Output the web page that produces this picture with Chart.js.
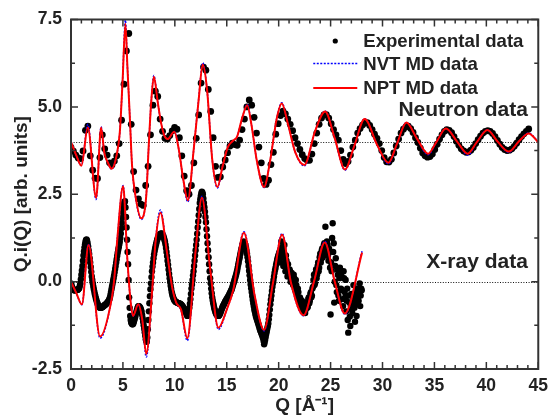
<!DOCTYPE html>
<html><head><meta charset="utf-8">
<script src="https://cdn.jsdelivr.net/npm/chart.js@4.4.1/dist/chart.umd.min.js"></script>
<style>html,body{margin:0;padding:0;background:#fff;}canvas{display:block;}</style>
</head><body>
<canvas id="c" width="555" height="420"></canvas>
<script>
// ---------------- data ----------------
const xTickValues = [0, 5, 10, 15, 20, 25, 30, 35, 40, 45];
const yTickValues = [-2.5, 0, 2.5, 5, 7.5];
const seriesLabels = ['Experimental data', 'NVT MD data', 'NPT MD data'];
const groupLabels = ['Neutron data', 'X-ray data'];
const baselines = [4.0, 0.0];

// Neutron experimental points, sampled every 0.232 Å^-1 starting at Q = 0
const neutronExpQStep = 0.232;
const neutronExp = [
  3.84,3.73,3.62,3.54,3.52,3.74,4.33,4.45,3.60,3.19,
  2.96,2.95,3.55,4.20,3.80,3.62,3.40,3.34,3.45,3.60,
  3.95,4.62,5.65,6.60,7.10,4.50,3.15,2.62,2.37,2.22,
  2.18,2.75,3.30,4.20,5.05,5.45,5.30,4.65,4.30,4.10,
  4.08,4.18,4.31,4.41,4.36,4.12,3.60,3.02,2.60,2.50,
  2.75,3.40,4.10,4.77,5.68,6.14,6.05,5.50,4.87,4.12,
  3.30,2.98,3.00,3.28,3.48,3.69,3.88,3.96,3.92,3.90,
  4.05,4.35,4.65,5.00,5.20,5.05,4.70,4.25,3.85,3.40,
  2.95,2.78,2.90,3.35,3.70,4.22,4.52,4.75,4.88,4.80,
  4.65,4.50,4.32,4.12,3.95,3.78,3.63,3.52,3.47,3.47,
  3.65,3.95,4.25,4.50,4.68,4.77,4.78,4.68,4.52,4.35,
  4.20,4.05,3.75,3.50,3.38,3.44,3.62,3.85,4.05,4.25,
  4.38,4.48,4.54,4.55,4.47,4.35,4.22,4.10,3.95,3.75,
  3.55,3.43,3.42,3.50,3.68,3.88,4.08,4.25,4.36,4.43,
  4.45,4.38,4.27,4.12,3.98,3.82,3.68,3.60,3.56,3.58,
  3.65,3.78,3.93,4.08,4.20,4.30,4.35,4.33,4.26,4.15,
  4.02,3.90,3.80,3.74,3.70,3.71,3.76,3.84,3.95,4.06,
  4.16,4.25,4.30,4.32,4.30,4.24,4.15,4.04,3.93,3.84,
  3.78,3.75,3.76,3.80,3.87,3.96,4.06,4.15,4.23,4.30,
  4.37
];

// X-ray experimental points, sampled every 0.05 Å^-1 starting at Q = 0 (one row per 1 Å^-1)
const xrayExpQStep = 0.05;
const xrayExp = [
  -0.05,-0.10,-0.15,-0.19,-0.22,-0.24,-0.25,-0.25,-0.25,-0.25,-0.24,-0.24,-0.24,-0.23,-0.22,-0.20,-0.18,-0.12,-0.05,0.07,
  0.20,0.32,0.45,0.60,0.75,0.87,0.98,1.07,1.15,1.19,1.21,1.17,1.10,1.01,0.90,0.79,0.67,0.55,0.42,0.28,
  0.15,0.05,-0.05,-0.14,-0.22,-0.29,-0.36,-0.42,-0.48,-0.53,-0.58,-0.62,-0.66,-0.69,-0.72,-0.74,-0.75,-0.75,-0.75,-0.74,
  -0.73,-0.72,-0.71,-0.70,-0.68,-0.67,-0.66,-0.65,-0.63,-0.62,-0.60,-0.58,-0.56,-0.53,-0.50,-0.45,-0.38,-0.30,-0.22,-0.14,
  -0.06,0.02,0.10,0.18,0.27,0.36,0.45,0.55,0.64,0.74,0.83,0.91,0.98,1.06,1.14,1.25,1.38,1.53,1.68,1.83,
  1.98,2.11,2.22,2.28,2.30,2.12,1.85,1.55,1.20,0.85,0.50,0.05,-0.45,-0.75,-0.98,-1.10,-1.17,-1.20,-1.22,-1.22,
  -1.20,-1.15,-1.10,-1.05,-0.99,-0.92,-0.86,-0.81,-0.76,-0.72,-0.70,-0.70,-0.72,-0.74,-0.77,-0.81,-0.86,-0.95,-1.05,-1.15,
  -1.25,-1.35,-1.45,-1.55,-1.65,-1.70,-1.72,-1.60,-1.36,-1.10,-0.85,-0.62,-0.42,-0.22,-0.05,0.13,0.30,0.43,0.55,0.67,
  0.78,0.87,0.95,1.02,1.08,1.14,1.20,1.24,1.27,1.30,1.33,1.35,1.36,1.37,1.38,1.37,1.36,1.33,1.30,1.25,
  1.20,1.14,1.06,0.96,0.85,0.73,0.60,0.48,0.35,0.22,0.10,-0.01,-0.12,-0.21,-0.30,-0.36,-0.42,-0.46,-0.50,-0.53,
  -0.55,-0.57,-0.58,-0.59,-0.60,-0.60,-0.61,-0.62,-0.62,-0.63,-0.63,-0.64,-0.66,-0.67,-0.69,-0.71,-0.73,-0.75,-0.78,-0.81,
  -0.84,-0.87,-0.91,-0.95,-0.98,-0.96,-0.92,-0.84,-0.75,-0.63,-0.50,-0.35,-0.20,-0.08,0.05,0.18,0.30,0.45,0.60,0.75,
  0.90,1.05,1.20,1.37,1.55,1.72,1.90,2.08,2.25,2.36,2.45,2.52,2.57,2.55,2.50,2.38,2.25,2.13,2.00,1.85,
  1.70,1.50,1.30,1.10,0.90,0.70,0.50,0.30,0.10,-0.05,-0.20,-0.33,-0.45,-0.54,-0.62,-0.69,-0.76,-0.81,-0.86,-0.90,
  -0.93,-0.95,-0.97,-0.98,-0.98,-0.97,-0.95,-0.92,-0.88,-0.84,-0.80,-0.76,-0.72,-0.69,-0.66,-0.63,-0.60,-0.57,-0.55,-0.52,
  -0.50,-0.47,-0.45,-0.42,-0.40,-0.36,-0.33,-0.30,-0.27,-0.24,-0.20,-0.15,-0.10,-0.05,0.00,0.05,0.10,0.15,0.20,0.26,
  0.32,0.40,0.48,0.55,0.63,0.70,0.78,0.85,0.92,0.98,1.05,1.10,1.14,1.14,1.12,1.09,1.05,0.98,0.90,0.80,
  0.70,0.58,0.45,0.31,0.18,0.05,-0.08,-0.19,-0.30,-0.41,-0.52,-0.61,-0.70,-0.78,-0.85,-0.92,-0.98,-1.03,-1.08,-1.12,
  -1.17,-1.22,-1.27,-1.32,-1.37,-1.41,-1.45,-1.49,-1.53,-1.57,-1.62,-1.70,-1.79,-1.73,-1.66,-1.58,-1.50,-1.43,-1.35,-1.28,
  -1.20,-1.08,-0.95,-0.80,-0.65,-0.52,-0.40,-0.27,-0.15,-0.05,0.05,0.15,0.25,0.33,0.40,0.48,0.55,0.62,0.68,0.73,
  0.78,0.82,0.86,0.55,0.93,1.15,0.98,0.70,1.00,0.45,0.85,1.05,0.55,0.30,0.75,0.60,0.35,0.15,0.50,0.25,
  0.15,0.35,0.30,0.00,0.05,0.25,0.20,-0.05,-0.10,0.20,0.10,-0.20,-0.25,0.05,-0.10,-0.35,-0.45,-0.20,-0.30,-0.55,
  -0.60,-0.45,-0.50,-0.70,-0.75,-0.55,-0.65,-0.85,-0.85,-0.65,-0.70,-0.90,-0.80,-0.60,-0.60,-0.75,-0.72,-0.50,-0.45,-0.62,
  -0.55,-0.35,-0.30,-0.45,-0.40,-0.20,-0.15,0.05,0.20,-0.10,-0.05,0.25,0.35,0.10,0.20,0.45,0.55,0.30,0.40,0.70,
  0.80,0.55,0.65,0.90,0.95,0.70,0.80,1.05,1.10,0.85,1.57,0.95,0.90,1.15,1.05,0.75,0.60,0.95,0.85,0.40,
  -0.94,0.55,0.30,1.25,1.67,0.85,1.10,-0.60,0.00,0.45,0.67,-0.10,-0.30,0.35,0.20,-0.40,-0.55,0.10,0.40,-0.25,
  -0.20,0.15,0.28,-0.50,-0.70,0.30,0.10,-0.30,-0.45,0.05,-0.85,-0.55,-0.20,-1.10,-1.46,-0.40,-0.60,-1.00,-1.27,-0.70,
  -0.35,-0.80,-0.90,-0.50,-0.10,-0.60,-0.75,-1.15,-0.40,-0.25,-0.98,-0.65,-0.20,-0.45,-0.55,-0.30,-0.05,-0.70,-0.40,-0.20,
  -0.25
];

// MD curves (neutron): Q nodes and values
const neutronMdQ = [0,0.5,1.0,1.62,2.42,2.9,3.2,3.53,3.91,4.39,4.7,4.96,5.24,5.43,5.66,5.88,6.2,6.77,7.25,7.47,
  7.72,7.98,8.36,8.67,8.99,9.31,9.95,10.4,10.8,11.25,11.82,12.3,12.68,13.1,13.6,14.1,14.6,15.1,15.6,16.0,
  16.5,16.97,17.4,17.9,18.59,19.2,19.8,20.3,20.9,21.6,22.47,23.5,24.47,25.4,26.38,27.3,28.28,29.5,30.57,31.4,
  32.3,33.3,34.38,35.2,36.1,37.2,38.2,39.1,40.1,41.1,42.16,43.1,44.07,45];
const neutronNpt = [4.0,3.62,3.32,4.41,2.40,4.41,3.7,3.42,3.23,3.61,4.27,5.69,7.38,6.16,4.74,3.32,2.47,1.81,2.47,3.79,
  5.12,5.86,5.12,4.55,4.18,4.08,4.29,3.75,2.95,2.33,3.79,5.22,6.21,5.5,3.5,2.71,3.3,3.85,4.03,4.15,
  4.7,5.05,4.45,3.45,2.71,3.5,4.65,5.10,4.5,3.7,3.34,4.3,4.87,4.1,3.21,3.9,4.65,3.9,3.40,3.95,
  4.55,4.1,3.66,4.0,4.38,4.0,3.66,4.0,4.34,4.0,3.72,4.0,4.24,3.99];
const neutronNvt = [4.0,3.62,3.32,4.50,2.35,4.43,3.7,3.42,3.22,3.61,4.27,5.72,7.48,6.16,4.74,3.32,2.45,1.78,2.47,3.79,
  5.12,5.90,5.12,4.55,4.18,4.08,4.29,3.75,2.93,2.28,3.79,5.24,6.26,5.5,3.5,2.68,3.3,3.85,4.03,4.15,
  4.7,5.07,4.45,3.45,2.69,3.5,4.65,5.12,4.5,3.7,3.31,4.3,4.88,4.1,3.19,3.9,4.66,3.9,3.37,3.95,
  4.55,4.1,3.63,4.0,4.38,4.0,3.62,4.0,4.34,4.0,3.70,4.0,4.25,4.0];

// MD curves (X-ray): Q nodes and values
const xrayMdQ = [0,0.5,1.05,1.69,2.8,3.85,4.16,4.48,5.02,5.43,5.75,5.97,6.48,6.86,7.25,7.82,8.13,8.61,9.25,9.72,
  10.13,10.6,11.2,11.98,12.61,13.41,14.2,15.0,15.63,16.65,17.7,18.59,19.45,20.33,21.19,22.4,23.4,24.44,25.4,26.37,28.03];
const xrayNpt = [0.0,-0.32,-0.65,1.05,-1.57,-0.6,0.06,1.29,2.73,0.63,-0.6,-0.98,-0.65,-1.08,-2.07,-0.23,1.1,1.97,0.82,-0.13,
  -0.6,-0.8,-1.62,0.82,2.4,0.34,-1.32,-0.8,-0.23,1.40,-0.42,-1.38,-0.04,1.34,-0.04,-0.96,0.0,1.12,0.0,-0.91,0.83];
const xrayNvt = [0.0,-0.32,-0.66,1.07,-1.62,-0.6,0.06,1.29,2.75,0.63,-0.6,-0.99,-0.65,-1.10,-2.16,-0.23,1.12,2.05,0.82,-0.13,
  -0.6,-0.82,-1.69,0.82,2.44,0.34,-1.37,-0.8,-0.23,1.43,-0.42,-1.41,-0.04,1.38,-0.04,-0.98,0.0,1.15,0.0,-0.93,0.87];

// ---------------- build ----------------
const toPts = (qs, vs) => vs.map((v, i) => ({x: qs[i], y: v}));
const gridPts = (step, vs) => vs.map((v, i) => ({x: +(i * step).toFixed(3), y: v}));

const FONT = "'Liberation Sans', Arial, Helvetica, sans-serif";
const TXT = '#222';

const lineDs = (label, pts, color, width, dash) => ({
  label, data: pts, borderColor: color, backgroundColor: color, borderWidth: width,
  borderDash: dash, pointRadius: 0, showLine: true, fill: false,
  cubicInterpolationMode: 'monotone'
});
const dotDs = (label, pts, r) => ({
  label, data: pts, showLine: false, pointRadius: r, pointBorderWidth: 0,
  pointBackgroundColor: '#000', borderColor: '#000', backgroundColor: '#000'
});

const decorPlugin = {
  id: 'decor',
  beforeDatasetsDraw(chart) {
    const {ctx, chartArea: a, scales: {y}} = chart;
    ctx.save();
    ctx.strokeStyle = '#111'; ctx.lineWidth = 1; ctx.setLineDash([1, 1.6]);
    baselines.forEach(v => {
      const py = Math.round(y.getPixelForValue(v)) + 0.5;
      ctx.beginPath(); ctx.moveTo(a.left, py); ctx.lineTo(a.right, py); ctx.stroke();
    });
    ctx.restore();
  },
  afterDraw(chart) {
    const {ctx, chartArea: a, scales: {x, y}} = chart;
    ctx.save();
    // ticks (inward, on all four sides)
    ctx.strokeStyle = '#333'; ctx.lineWidth = 1.5; ctx.setLineDash([]);
    for (let v = x.min; v <= x.max + 1e-9; v += 1) {
      const major = Math.abs(v / 5 - Math.round(v / 5)) < 1e-6;
      const len = major ? 7 : 4, px = x.getPixelForValue(v);
      ctx.beginPath();
      ctx.moveTo(px, a.bottom); ctx.lineTo(px, a.bottom - len);
      ctx.moveTo(px, a.top); ctx.lineTo(px, a.top + len);
      ctx.stroke();
    }
    for (let v = y.min; v <= y.max + 1e-9; v += 1.25) {
      const major = Math.abs(v / 2.5 - Math.round(v / 2.5)) < 1e-6;
      const len = major ? 7 : 4, py = y.getPixelForValue(v);
      ctx.beginPath();
      ctx.moveTo(a.left, py); ctx.lineTo(a.left + len, py);
      ctx.moveTo(a.right, py); ctx.lineTo(a.right - len, py);
      ctx.stroke();
    }
    // frame
    ctx.lineWidth = 2; ctx.strokeStyle = '#333';
    ctx.strokeRect(a.left, a.top, a.right - a.left, a.bottom - a.top);

    // legend
    const tx = a.right - 175, rows = [a.top + 21.5, a.top + 44, a.top + 68.5];
    ctx.font = 'bold 18.6px ' + FONT;
    ctx.textAlign = 'left'; ctx.textBaseline = 'middle';
    ctx.beginPath(); ctx.fillStyle = '#000';
    ctx.arc(tx - 28, rows[0], 2.6, 0, Math.PI * 2); ctx.fill();
    ctx.strokeStyle = '#0000ff'; ctx.lineWidth = 1.5; ctx.setLineDash([2, 1.5]);
    ctx.beginPath(); ctx.moveTo(tx - 50, rows[1]); ctx.lineTo(tx - 6, rows[1]); ctx.stroke();
    ctx.strokeStyle = '#ff0000'; ctx.lineWidth = 2; ctx.setLineDash([]);
    ctx.beginPath(); ctx.moveTo(tx - 50, rows[2]); ctx.lineTo(tx - 6, rows[2]); ctx.stroke();
    ctx.fillStyle = TXT;
    seriesLabels.forEach((t, i) => ctx.fillText(t, tx, rows[i] + 1));

    // group labels
    ctx.font = 'bold 21px ' + FONT; ctx.textAlign = 'right';
    ctx.fillText(groupLabels[0], x.getPixelForValue(44.0), y.getPixelForValue(4.9));
    ctx.fillText(groupLabels[1], x.getPixelForValue(44.0), y.getPixelForValue(0.57));
    ctx.restore();
  }
};

const tickFont = {family: FONT, size: 17.5, weight: 'bold'};
const titleFont = {family: FONT, size: 19, weight: 'bold'};

new Chart(document.getElementById('c'), {
  type: 'line',
  data: {
    datasets: [
      lineDs(seriesLabels[2], toPts(neutronMdQ, neutronNpt), '#ff0000', 2, []),
      lineDs(seriesLabels[2], toPts(xrayMdQ, xrayNpt), '#ff0000', 2, []),
      lineDs(seriesLabels[1], toPts(neutronMdQ, neutronNvt), '#0000ff', 1.5, [2, 1.5]),
      lineDs(seriesLabels[1], toPts(xrayMdQ, xrayNvt), '#0000ff', 1.5, [2, 1.5]),
      dotDs(seriesLabels[0], gridPts(neutronExpQStep, neutronExp), 3.4),
      dotDs(seriesLabels[0], gridPts(xrayExpQStep, xrayExp), 3.2)
    ]
  },
  options: {
    responsive: false, animation: false, devicePixelRatio: 1,
    layout: {padding: {top: 18, right: 12, left: 0, bottom: 0}},
    plugins: {legend: {display: false}, tooltip: {enabled: false}},
    scales: {
      x: {
        type: 'linear', min: 0, max: 45,
        afterFit(s) { s.height = 51; },
        afterBuildTicks(s) { s.ticks = xTickValues.map(v => ({value: v})); },
        ticks: {font: tickFont, color: TXT, padding: 7, maxRotation: 0, autoSkip: false,
          callback: v => String(v)},
        grid: {display: false, drawTicks: false},
        border: {display: false},
        title: {display: true, text: 'Q [Å⁻¹]', font: titleFont, color: TXT, padding: {top: 0, bottom: 3}}
      },
      y: {
        type: 'linear', min: -2.5, max: 7.5,
        afterFit(s) { s.width = 71; },
        afterBuildTicks(s) { s.ticks = yTickValues.map(v => ({value: v})); },
        ticks: {font: tickFont, color: TXT, padding: 9, autoSkip: false,
          callback: v => Number(v).toFixed(1)},
        grid: {display: false, drawTicks: false},
        border: {display: false},
        title: {display: true, text: 'Q.i(Q) [arb. units]', font: titleFont, color: TXT, padding: {top: 10, bottom: 0}}
      }
    }
  },
  plugins: [decorPlugin]
});
</script>
</body></html>
